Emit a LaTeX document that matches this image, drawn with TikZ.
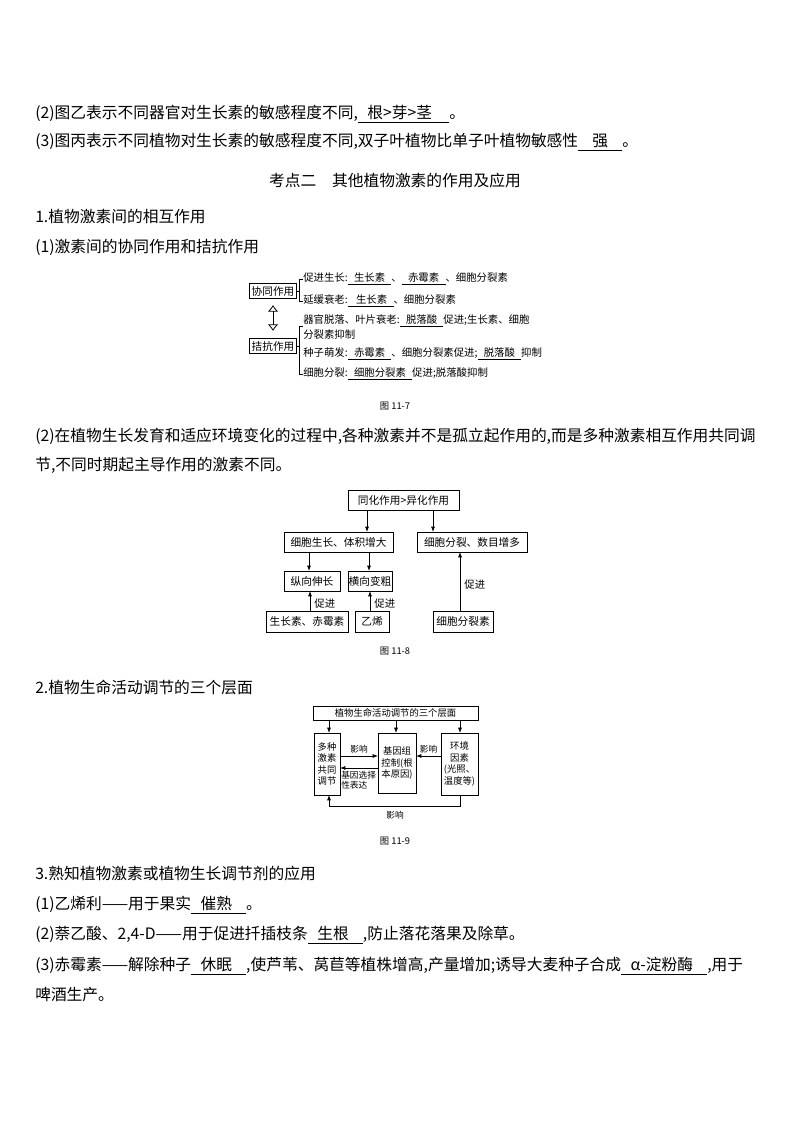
\documentclass[tikz,border=0pt]{standalone}
\usepackage{fontspec}
\setmainfont{Noto Sans CJK SC}
\usetikzlibrary{arrows.meta}
\newcommand\ublank[1]{\underline{\hspace{0.6em}#1\hspace{0.6em}}}
\begin{document}
\begin{tikzpicture}[x=0.75pt,y=-0.75pt,
  body/.style={anchor=west,inner sep=0pt,font=\fontsize{11.8}{14}\selectfont},
  small/.style={inner sep=0pt,font=\fontsize{7.8}{9}\selectfont},
  bx/.style={draw,line width=0.6pt,inner sep=0pt,font=\fontsize{8}{9}\selectfont},
  arr/.style={-{Latex[length=4pt,width=3pt]},line width=0.6pt},
  figcap/.style={inner sep=0pt,font=\fontsize{7}{8}\selectfont}]
\useasboundingbox (0,0) rectangle (794,1123);
\fill[white] (0,0) rectangle (794,1123);
% text
\node[body] (t1) at (35,114) {(2)图乙表示不同器官对生长素的敏感程度不同,\ublank{根>芽>茎\hspace{0.5em}}。};
\node[body] (t2) at (35,142) {(3)图丙表示不同植物对生长素的敏感程度不同,双子叶植物比单子叶植物敏感性\ublank{\hspace{0.3em}强\hspace{0.3em}}。};
\node[body,anchor=center] (h) at (395,181) {考点二\quad 其他植物激素的作用及应用};
\node[body] (t3) at (35,217) {1.植物激素间的相互作用};
\node[body] (t4) at (35,247) {(1)激素间的协同作用和拮抗作用};
% 11-7
\node[bx,minimum width=35.25pt,minimum height=11.25pt] (xt) at (273,291) {协同作用};
\node[bx,minimum width=35.25pt,minimum height=11.25pt] (jk) at (273,346) {拮抗作用};
\draw[{Latex[open,length=5pt,width=8pt]}-{Latex[open,length=5pt,width=8pt]},line width=0.6pt] (273,305) -- (273,331);
\draw[line width=0.5pt] (303,279) -- (299,279) -- (299,301) -- (303,301);
\draw[line width=0.5pt] (xt.east) -- (299,291);
\draw[line width=0.5pt] (303,326) -- (299,326) -- (299,374) -- (303,374);
\draw[line width=0.5pt] (jk.east) -- (299,346);
\node[small,anchor=west] (a1) at (303,279) {促进生长:\ublank{生长素}、\ublank{赤霉素}、细胞分裂素};
\node[small,anchor=west] (a2) at (303,301) {延缓衰老:\ublank{\hspace{0.2em}生长素}、细胞分裂素};
\node[small,anchor=west] (a3) at (303,321) {器官脱落、叶片衰老:\ublank{脱落酸}促进;生长素、细胞};
\node[small,anchor=west] (a4) at (303,335) {分裂素抑制};
\node[small,anchor=west] (a5) at (303,354) {种子萌发:\ublank{赤霉素}、细胞分裂素促进;\ublank{脱落酸}抑制};
\node[small,anchor=west] (a6) at (303,374) {细胞分裂:\ublank{细胞分裂素}促进;脱落酸抑制};
\node[figcap] (c1) at (395,406) {图 11-7};
\node[body] (t5) at (35,436) {(2)在植物生长发育和适应环境变化的过程中,各种激素并不是孤立起作用的,而是多种激素相互作用共同调};
\node[body] (t6) at (35,465) {节,不同时期起主导作用的激素不同。};
% 11-8
\node[bx,minimum width=83.25pt,minimum height=15pt] (b1) at (403.5,500) {同化作用>异化作用};
\node[bx,minimum width=81.75pt,minimum height=15pt] (b2) at (338.5,542) {细胞生长、体积增大};
\node[bx,minimum width=82.5pt,minimum height=15pt] (b3) at (472,542) {细胞分裂、数目增多};
\node[bx,minimum width=42pt,minimum height=15pt] (b4) at (312,581) {纵向伸长};
\node[bx,minimum width=33pt,minimum height=15pt] (b5) at (370,581) {横向变粗};
\node[bx,minimum width=61.5pt,minimum height=15.75pt] (b6) at (307,621.5) {生长素、赤霉素};
\node[bx,minimum width=25.5pt,minimum height=15.75pt] (b7) at (372,621.5) {乙烯};
\node[bx,minimum width=45pt,minimum height=15.75pt] (b8) at (463,621.5) {细胞分裂素};
\draw[arr] (367,510) -- (367,532);
\draw[arr] (433,510) -- (433,532);
\draw[arr] (309,552) -- (309,571);
\draw[arr] (369,552) -- (369,571);
\draw[arr] (310,611) -- node[small,right=3pt,pos=0.35] {促进} (310,591);
\draw[arr] (370,611) -- node[small,right=3pt,pos=0.35] {促进} (370,591);
\draw[arr] (460,611) -- node[small,right=3pt,pos=0.45] {促进} (460,552);
\node[figcap] (c2) at (395,651) {图 11-8};
\node[body] (t7) at (35,687) {2.植物生命活动调节的三个层面};
% 11-9
\node[bx,minimum width=123.75pt,minimum height=10.5pt,font=\fontsize{7}{8}\selectfont] (d1) at (395.5,713) {植物生命活动调节的三个层面};
\node[bx,minimum width=19.5pt,minimum height=46.5pt,font=\fontsize{7}{8.6}\selectfont,align=center] (d2) at (327,764) {多种\\激素\\共同\\调节};
\node[bx,minimum width=28.5pt,minimum height=45pt,font=\fontsize{7}{8.6}\selectfont,align=center] (d3) at (397,763) {基因组\\控制(根\\本原因)};
\node[bx,minimum width=27.75pt,minimum height=46.5pt,font=\fontsize{7}{8.6}\selectfont,align=center] (d4) at (459.5,764) {环境\\因素\\(光照、\\温度等)};
\draw[arr] (329,720) -- (329,733);
\draw[arr] (396,720) -- (396,733);
\draw[arr] (460,720) -- (460,733);
\draw[arr] (340,756) -- node[small,above=2pt,font=\fontsize{6.5}{7}\selectfont] {影响} (378,756);
\draw[arr] (378,768) -- (340,768);
\node[small,anchor=north west,align=left,font=\fontsize{6.5}{7.8}\selectfont] (d5) at (341,771) {基因选择\\性表达};
\draw[arr] (441,756) -- node[small,above=2pt,font=\fontsize{6.5}{7}\selectfont] {影响} (416,756);
\draw[arr] (460,795) -- (460,806) -- (329,806) -- (329,795);
\node[small,font=\fontsize{6.5}{7}\selectfont] (d6) at (395,815) {影响};
\node[figcap] (c3) at (395,841) {图 11-9};
\node[body] (t8) at (35,874) {3.熟知植物激素或植物生长调节剂的应用};
\node[body] (t9) at (35,905) {(1)乙烯利——用于果实\ublank{催熟\hspace{0.3em}}。};
\node[body] (t10) at (35,935) {(2)萘乙酸、2,4-D——用于促进扦插枝条\ublank{生根\hspace{0.3em}},防止落花落果及除草。};
\node[body] (t11) at (35,966) {(3)赤霉素——解除种子\ublank{休眠\hspace{0.3em}},使芦苇、莴苣等植株增高,产量增加;诱导大麦种子合成\ublank{α-淀粉酶\hspace{0.3em}},用于};
\node[body] (t12) at (35,995) {啤酒生产。};
\end{tikzpicture}
\end{document}
